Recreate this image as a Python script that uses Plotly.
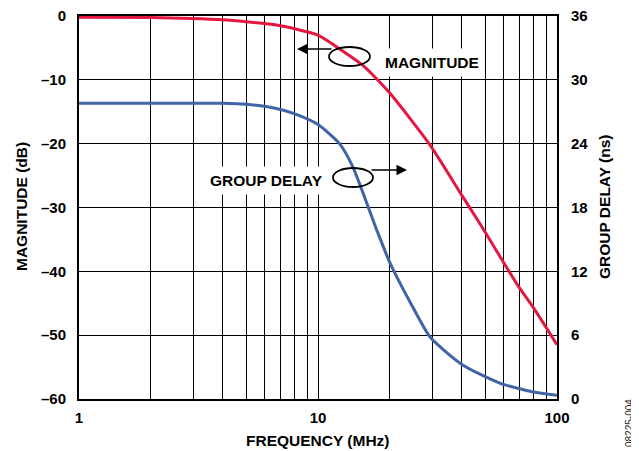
import plotly.graph_objects as go

# ---- data ----
freq_mag = [1, 2, 3, 4, 5, 6.7, 8, 10, 12.7, 15.5, 20, 29.4, 40.3, 49, 68.5, 79.4, 100]
magnitude_db = [-0.2, -0.25, -0.4, -0.6, -0.9, -1.4, -2.0, -3.0, -5.5, -7.8, -12.1, -20.2, -28.3, -33.3, -42.2, -45.6, -51.5]

freq_gd = [1, 2, 4, 5, 6.7, 8, 10, 12.3, 14, 17.6, 20, 24.3, 29.5, 40.3, 57.6, 79.4, 100]
group_delay_ns = [27.8, 27.8, 27.8, 27.7, 27.3, 26.8, 25.8, 24.0, 21.8, 15.9, 12.8, 9.1, 5.8, 3.2, 1.5, 0.66, 0.35]

x_grid = [1, 2, 3, 4, 5, 6, 7, 8, 9, 10, 20, 30, 40, 50, 60, 70, 80, 90, 100]
x_labels = {1: "1", 10: "10", 100: "100"}
y_left_ticks = [0, -10, -20, -30, -40, -50, -60]
y_right_ticks = [0, 6, 12, 18, 24, 30, 36]

FONT = "Liberation Sans, Arial, sans-serif"
RED = "#E4173F"
BLUE = "#4065A6"

fig = go.Figure()
fig.add_trace(go.Scatter(x=freq_mag, y=magnitude_db, mode="lines",
                         line=dict(color=RED, width=3, shape="spline", smoothing=0.6),
                         name="MAGNITUDE", hoverinfo="skip"))
fig.add_trace(go.Scatter(x=freq_gd, y=group_delay_ns, mode="lines", yaxis="y2",
                         line=dict(color=BLUE, width=3, shape="spline", smoothing=0.6),
                         name="GROUP DELAY", hoverinfo="skip"))

# page body has an 8px margin: the figure starts at (8, 8) in the window
OFF = 8
W, H = 639 - OFF, 451 - OFF
L, R, T, B = 79, 557, 16, 399          # plot area in reference (window) pixels


def px(xp):
    return (xp - L) / (R - L)


def py(yp):
    return (B - yp) / (B - T)


def bold(s):
    return "<b>" + s + "</b>" if s else ""


fig.update_layout(
    width=W, height=H,
    margin=dict(l=L - OFF, r=W - (R - OFF), t=T - OFF, b=H - (B - OFF), pad=0, autoexpand=False),
    paper_bgcolor="white", plot_bgcolor="white",
    showlegend=False,
    font=dict(family=FONT, color="black"),
    xaxis=dict(type="log", range=[0, 2], tickvals=x_grid, automargin=False,
               ticktext=[bold(x_labels.get(v, "")) for v in x_grid],
               ticklabeloverflow="allow",
               showgrid=True, gridcolor="black", gridwidth=1.3,
               showline=True, linecolor="black", linewidth=2, mirror=True,
               ticks="", ticklabelstandoff=4, tickfont=dict(size=15, family=FONT),
               zeroline=False),
    yaxis=dict(range=[-60, 0], tickvals=y_left_ticks, automargin=False,
               ticktext=[bold(("\u2013" + str(-v)) if v < 0 else str(v)) for v in y_left_ticks],
               ticklabeloverflow="allow",
               showgrid=True, gridcolor="black", gridwidth=1.3,
               showline=True, linecolor="black", linewidth=2, mirror=True,
               ticks="", ticklabelstandoff=8,
               tickfont=dict(size=15, family=FONT), zeroline=False),
    yaxis2=dict(range=[0, 36], tickvals=y_right_ticks, automargin=False,
                ticktext=[bold(str(v)) for v in y_right_ticks],
                ticklabeloverflow="allow",
                overlaying="y", side="right", showgrid=False,
                showline=True, linecolor="black", linewidth=2,
                ticks="", ticklabelstandoff=9,
                tickfont=dict(size=15, family=FONT), zeroline=False),
)

# ellipses
fig.add_shape(type="circle", xref="paper", yref="paper",
              x0=px(329), x1=px(370), y0=py(66), y1=py(47),
              line=dict(color="black", width=1.8))
fig.add_shape(type="circle", xref="paper", yref="paper",
              x0=px(333), x1=px(373), y0=py(187), y1=py(168),
              line=dict(color="black", width=1.8))

# arrows
fig.add_annotation(xref="paper", yref="paper", x=px(297), y=py(49), ax=36, ay=0,
                   text="", showarrow=True, arrowhead=2, arrowsize=1.4,
                   arrowwidth=1.5, arrowcolor="black")
fig.add_annotation(xref="paper", yref="paper", x=px(407), y=py(170), ax=-37, ay=0,
                   text="", showarrow=True, arrowhead=2, arrowsize=1.4,
                   arrowwidth=1.5, arrowcolor="black")

# labels with white background
common = dict(xref="paper", yref="paper", showarrow=False, xanchor="center", yanchor="middle")
fig.add_annotation(x=px(432), y=py(62), text="<b>MAGNITUDE</b>", bgcolor="white", borderpad=5,
                   font=dict(size=15.5, family=FONT, color="black"), **common)
fig.add_annotation(x=px(266), y=py(180), text="<b>GROUP DELAY</b>", bgcolor="white", borderpad=5,
                   font=dict(size=15.5, family=FONT, color="black"), **common)

# axis titles
fig.add_annotation(x=px(318), y=py(440), text="<b>FREQUENCY (MHz)</b>",
                   font=dict(size=15.5, family=FONT, color="black"), **common)
fig.add_annotation(x=px(21), y=py(207), text="<b>MAGNITUDE (dB)</b>", textangle=-90,
                   font=dict(size=15.5, family=FONT, color="black"), **common)
fig.add_annotation(x=px(604), y=py(207), text="<b>GROUP DELAY (ns)</b>", textangle=-90,
                   font=dict(size=15.5, family=FONT, color="black"), **common)
fig.add_annotation(x=px(629), y=py(423), text="08225-004", textangle=-90,
                   font=dict(size=10, family="Liberation Sans Narrow, Arial Narrow, sans-serif",
                             color="#222222"), **common)

fig.write_html("out.html")
